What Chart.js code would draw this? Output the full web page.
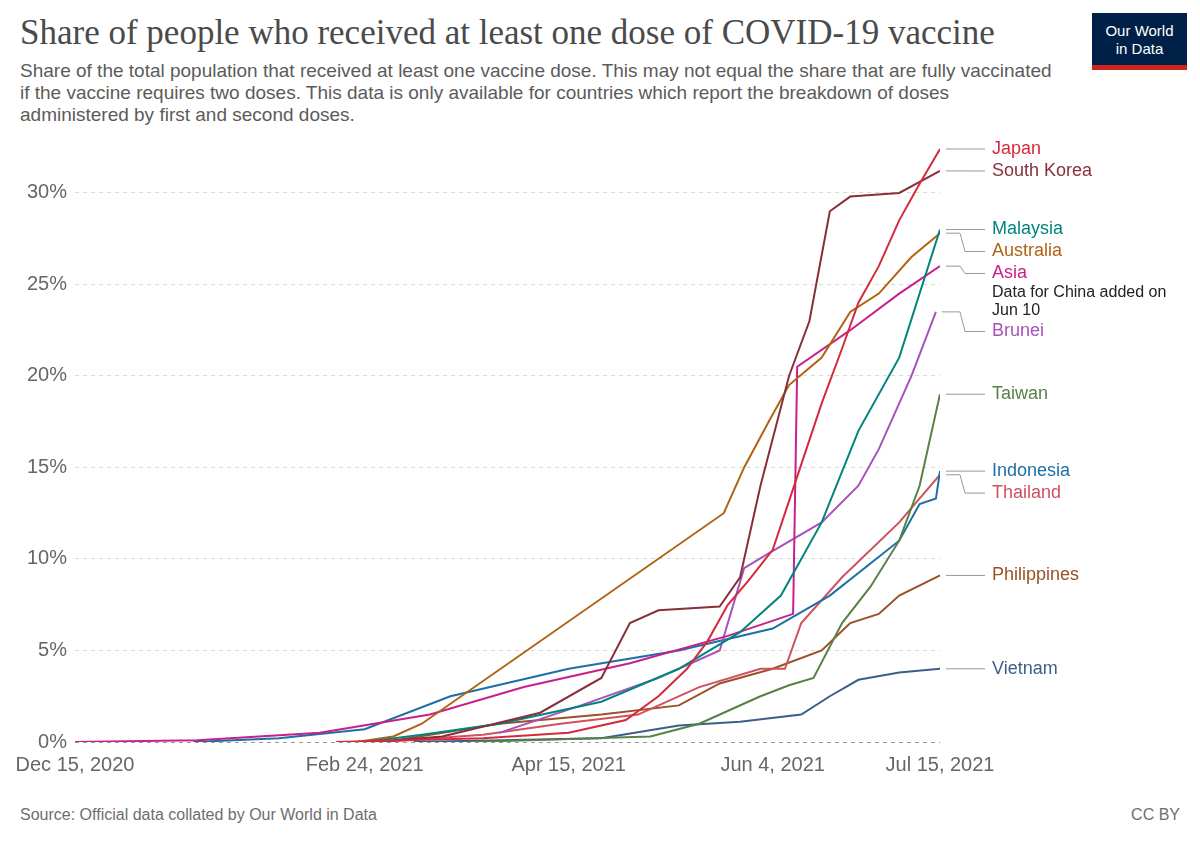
<!DOCTYPE html>
<html lang="en">
<head>
  <meta charset="UTF-8" />
  <title>Share of people who received at least one dose of COVID-19 vaccine</title>
  <script src="https://cdn.jsdelivr.net/npm/chart.js"></script>
  <style>
    body { margin: 0; width: 1200px; height: 847px; position: relative; background: #fff; font-family: "Liberation Sans", Arial, sans-serif; overflow: hidden; }
    #title { position: absolute; left: 20px; top: 13px; font-family: "Liberation Serif", "DejaVu Serif", serif; font-size: 35px; color: #4a4a4a; }
    #sub { position: absolute; left: 20px; top: 60px; width: 1040px; font-size: 19px; line-height: 22px; color: #5b5b5b; }
    #logo { position: absolute; left: 1092px; top: 13px; width: 95px; height: 57px; background: #002147; color: #fff; font-size: 15px; line-height: 18px; text-align: center; box-sizing: border-box; padding-top: 9px; border-bottom: 5px solid #ce261e; }
    #src { position: absolute; left: 20px; top: 806px; font-size: 16px; color: #6e6e6e; }
    #cc { position: absolute; right: 20px; top: 806px; font-size: 16px; color: #6e6e6e; }
    canvas { position: absolute; left: 0; top: 0; }
  </style>
</head>
<body>
  <div id="title">Share of people who received at least one dose of COVID-19 vaccine</div>
  <div id="sub">Share of the total population that received at least one vaccine dose. This may not equal the share that are fully vaccinated if the vaccine requires two doses. This data is only available for countries which report the breakdown of doses administered by first and second doses.</div>
  <div id="logo">Our World<br>in Data</div>
  <div id="src">Source: Official data collated by Our World in Data</div>
  <div id="cc">CC BY</div>
  <canvas id="chart" width="1200" height="847"></canvas>

  <script>
    // x = days since Dec 15, 2020
    const tickDays = [0, 71, 121, 171, 212];
    const tickLabels = ['Dec 15, 2020', 'Feb 24, 2021', 'Apr 15, 2021', 'Jun 4, 2021', 'Jul 15, 2021'];

    const japan = [[64,0],[100,0.2],[121,0.5],[135,1.2],[143,2.5],[150,4],[155,5.5],[160,7.5],[165,8.8],[171,10.5],[177,14.5],[183,18.5],[188,21.5],[192,24],[197,26],[202,28.5],[207,30.5],[212,32.4]];
    const southKorea = [[73,0],[90,0.3],[114,1.6],[129,3.5],[136,6.5],[143,7.2],[158,7.4],[163,9],[168,14],[175,20],[180,23],[185,29],[190,29.8],[202,30],[212,31.2]];
    const malaysia = [[71,0],[85,0.4],[104,1],[129,2.2],[148,4],[163,6],[173,8],[183,12],[192,17],[202,21],[212,28]];
    const australia = [[69,0],[78,0.3],[85,1],[159,12.5],[164,15],[170,17.5],[175,19.5],[183,21],[190,23.5],[197,24.5],[205,26.5],[212,27.8]];
    const asia = [[0,0],[30,0.1],[60,0.5],[87,1.5],[110,3],[136,4.3],[160,5.8],[176,7],[177,20.5],[190,22.5],[202,24.5],[212,26]];
    const brunei = [[104,0.5],[124,2],[143,3.5],[158,5],[164,9.5],[170,10.3],[183,12],[192,14],[197,16],[205,20],[211,23.5]];
    const taiwan = [[97,0],[141,0.3],[153,1],[168,2.5],[175,3.1],[181,3.5],[188,6.5],[195,8.5],[202,11],[207,14],[212,19]];
    const indonesia = [[29,0],[50,0.2],[71,0.7],[92,2.5],[121,4],[148,5],[171,6.2],[185,8],[202,11],[207,13],[211,13.3],[212,14.8]];
    const thailand = [[75,0],[100,0.4],[119,1],[138,1.5],[153,3],[168,4],[174,4],[178,6.5],[188,9],[202,12],[212,14.6]];
    const philippines = [[76,0],[104,1],[129,1.5],[148,2],[158,3.2],[171,4],[183,5],[190,6.5],[197,7],[202,8],[212,9.1]];
    const vietnam = [[83,0],[129,0.2],[148,0.9],[163,1.1],[178,1.5],[185,2.5],[192,3.4],[202,3.8],[212,4]];

    const seriesNames = ['Japan','South Korea','Malaysia','Australia','Asia','Brunei','Taiwan','Indonesia','Thailand','Philippines','Vietnam'];
    const seriesData = [japan, southKorea, malaysia, australia, asia, brunei, taiwan, indonesia, thailand, philippines, vietnam];
    const seriesColors = ['#d42a3c','#883039','#00847e','#b16214','#c8208a','#a652ba','#578145','#1d6fa5','#d0505e','#9a5129','#3b5f8a'];
    const notes = { 'Asia': ['Data for China added on', 'Jun 10'] };

    const labelPlugin = {
      id: 'endLabels',
      afterDraw(chart) {
        const ctx = chart.ctx;
        const items = chart.data.datasets.map((ds, i) => {
          const meta = chart.getDatasetMeta(i);
          const last = meta.data[meta.data.length - 1];
          const h = notes[ds.label] ? 22 + notes[ds.label].length * 18 : 22;
          return { name: ds.label, color: ds.borderColor, px: last.x, py: last.y, h };
        }).sort((a, b) => a.py - b.py);
        let prev = -Infinity;
        items.forEach(it => {
          it.ty = it.py;
          if (it.ty - 11 < prev) it.ty = prev + 11;
          prev = it.ty + it.h - 11;
        });
        items.forEach(it => {
          ctx.save();
          ctx.strokeStyle = '#999';
          ctx.lineWidth = 1;
          ctx.beginPath();
          ctx.moveTo(it.px + 6, it.py);
          ctx.lineTo(960, it.py);
          ctx.lineTo(965, it.ty);
          ctx.lineTo(985, it.ty);
          ctx.stroke();
          ctx.font = '18px "Liberation Sans", Arial, sans-serif';
          ctx.fillStyle = it.color;
          ctx.textBaseline = 'middle';
          ctx.fillText(it.name, 992, it.ty);
          if (notes[it.name]) {
            ctx.font = '16px "Liberation Sans", Arial, sans-serif';
            ctx.fillStyle = '#222';
            notes[it.name].forEach((t, k) => ctx.fillText(t, 992, it.ty + 19 + k * 18));
          }
          ctx.restore();
        });
      }
    };

    new Chart(document.getElementById('chart'), {
      type: 'line',
      data: {
        datasets: seriesNames.map((n, i) => ({
          label: n,
          data: seriesData[i].map(p => ({ x: p[0], y: p[1] })),
          borderColor: seriesColors[i],
          borderWidth: 2,
          pointRadius: 0,
          tension: 0
        }))
      },
      options: {
        responsive: false,
        animation: false,
        layout: { padding: { left: 0, right: 260, top: 138, bottom: 65 } },
        plugins: { legend: { display: false }, tooltip: { enabled: false } },
        scales: {
          x: {
            type: 'linear', min: 0, max: 212,
            afterBuildTicks: s => { s.ticks = tickDays.map(v => ({ value: v })); },
            afterFit: s => { s.height = 40; },
            grid: { display: false },
            border: { display: false },
            ticks: {
              autoSkip: false, maxRotation: 0,
              color: '#666', font: { size: 20, family: '"Liberation Sans", Arial' },
              callback: v => tickLabels[tickDays.indexOf(v)]
            }
          },
          y: {
            min: 0, max: 33,
            afterBuildTicks: s => { s.ticks = [0,5,10,15,20,25,30].map(v => ({ value: v })); },
            afterFit: s => { s.width = 75; },
            border: { display: false, dash: [4, 4] },
            grid: {
              color: c => c.tick.value === 0 ? '#999' : '#d8d8d8',
              drawTicks: false
            },
            ticks: {
              padding: 8,
              color: '#666', font: { size: 20, family: '"Liberation Sans", Arial' },
              callback: v => v + '%'
            }
          }
        }
      },
      plugins: [labelPlugin]
    });
  </script>
</body>
</html>
